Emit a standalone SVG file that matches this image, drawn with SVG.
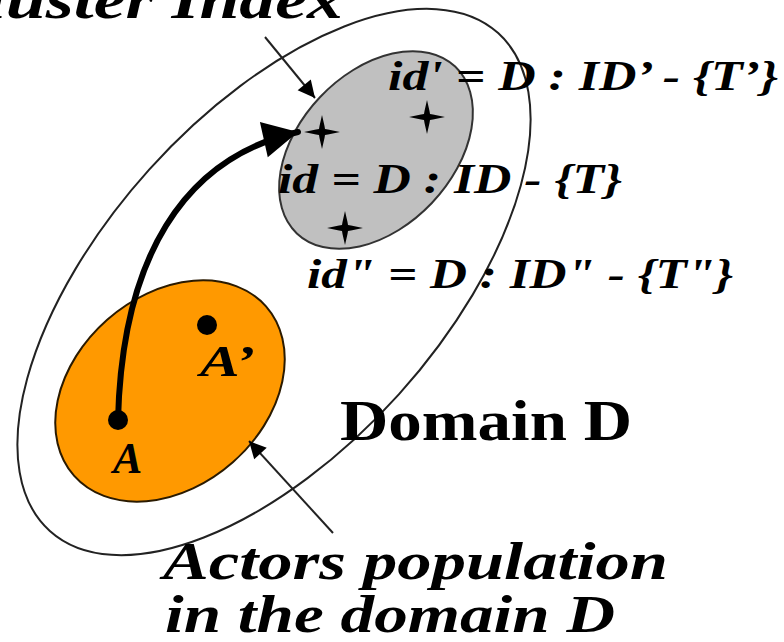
<svg xmlns="http://www.w3.org/2000/svg" xmlns:xlink="http://www.w3.org/1999/xlink" width="784" height="642" viewBox="0 0 784 642">
  <style>
    .bi { font-family: "Liberation Serif", "Times New Roman", serif; font-weight: bold; font-style: italic; fill: #000; }
    .b { font-family: "Liberation Serif", "Times New Roman", serif; font-weight: bold; fill: #000; }
    .thin { fill: none; stroke: #222; stroke-width: 2; }
    .thick { fill: none; stroke: #000; stroke-width: 6; stroke-linecap: round; }
  </style>
  <defs>
    <marker id="headThin" markerUnits="userSpaceOnUse" viewBox="-18 -10 19 20" refX="0" refY="0" markerWidth="19" markerHeight="20" orient="auto">
      <path d="M0,0 L-17,-8.5 L-17,8.5 Z" fill="#000"/>
    </marker>
    <marker id="headThick" markerUnits="userSpaceOnUse" viewBox="-36 -19 37 38" refX="0" refY="0" markerWidth="37" markerHeight="38" orient="auto">
      <path d="M0,0 L-35,-18 L-35,18 Z" fill="#000"/>
    </marker>
    <path id="star" d="M0,-17 L2.5,-6 L3,-3 L6,-2.5 L18,0 L6,2.5 L3,3 L2.5,6 L0,17 L-2.5,6 L-3,3 L-6,2.5 L-18,0 L-6,-2.5 L-3,-3 L-2.5,-6 Z" fill="#000"/>
  </defs>

  <rect width="784" height="642" fill="#fff"/>

  <g id="domain">
    <ellipse cx="274" cy="282" rx="335" ry="168" transform="rotate(-48 274 282)" fill="none" stroke="#222" stroke-width="2"/>
    <text class="b" x="340" y="440" font-size="58" textLength="292" lengthAdjust="spacingAndGlyphs">Domain D</text>
  </g>

  <g id="actors">
    <ellipse cx="170" cy="391" rx="128" ry="95" transform="rotate(-41.4 170 391)" fill="#FF9900" stroke="#2a1a00" stroke-width="2"/>
  </g>

  <g id="actor-A">
    <circle cx="118" cy="420" r="10" fill="#000"/>
    <text class="bi" x="113" y="473" font-size="44">A</text>
  </g>

  <g id="actor-A2">
    <circle cx="207" cy="325" r="10" fill="#000"/>
    <text class="bi" x="200" y="376" font-size="44" textLength="55" lengthAdjust="spacingAndGlyphs">A’</text>
  </g>

  <g id="cluster">
    <ellipse cx="376" cy="150" rx="115" ry="77" transform="rotate(-46.5 376 150)" fill="#C0C0C0" stroke="#333" stroke-width="2"/>
    <use xlink:href="#star" href="#star" x="322" y="132"/>
    <use xlink:href="#star" href="#star" x="427" y="117"/>
    <use xlink:href="#star" href="#star" x="345" y="228"/>
  </g>

  <g id="connectors">
    <path class="thick" d="M118,420 C122,260 182,158 298,132" marker-end="url(#headThick)"/>
    <path class="thin" d="M265,37 L315,98" marker-end="url(#headThin)"/>
    <path class="thin" d="M333,533 L249,441" marker-end="url(#headThin)"/>
  </g>

  <g id="labels">
    <text class="bi" x="-62" y="18" font-size="54" textLength="405" lengthAdjust="spacingAndGlyphs">Cluster Index</text>
    <text class="bi" x="388" y="90" font-size="42" textLength="390" lengthAdjust="spacingAndGlyphs">id' = D : ID’ - {T’}</text>
    <text class="bi" x="278" y="193" font-size="42" textLength="344" lengthAdjust="spacingAndGlyphs">id = D : ID - {T}</text>
    <text class="bi" x="307" y="288" font-size="42" textLength="426" lengthAdjust="spacingAndGlyphs">id" = D : ID" - {T"}</text>
    <text class="bi" x="163" y="579" font-size="53" textLength="505" lengthAdjust="spacingAndGlyphs">Actors population</text>
    <text class="bi" x="165" y="632" font-size="53" textLength="450" lengthAdjust="spacingAndGlyphs">in the domain D</text>
  </g>
</svg>
